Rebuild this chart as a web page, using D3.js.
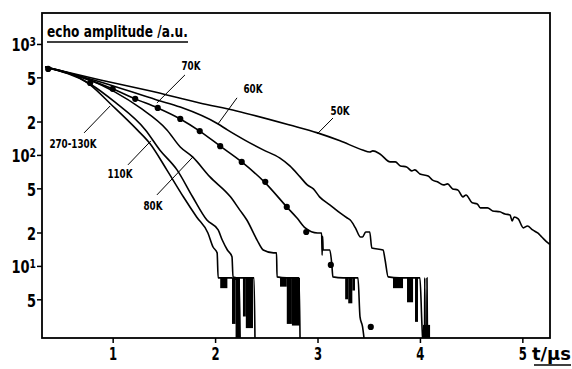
<!DOCTYPE html>
<html><head><meta charset="utf-8">
<script src="https://cdn.jsdelivr.net/npm/d3@7"></script>
<style>
body{margin:0;background:#fff}
text{font-family:"Liberation Sans Narrow","DejaVu Sans Condensed","Arial Narrow",sans-serif;font-weight:bold;fill:#000}
</style>
</head><body>
<svg id="c" width="572" height="369"></svg>
<script>
// ---- data (t in µs, echo amplitude in a.u.) ----
const t_270_130K = [0.34,0.78,0.99,1.24,1.36,1.53,1.69,1.82,1.93,1.98,2.02,2.03,2.13,2.16,2.20,2.235,2.245];
const a_270_130K = [621,428,282,168,128,73,42,27.6,19.8,14.8,13.1,7.8,7.8,7.8,7.6,7.8,2.0];

const t_110K = [0.34,0.78,1.02,1.32,1.46,1.63,1.78,1.92,2.03,2.07,2.12,2.165,2.175,2.24,2.30,2.36,2.38,2.39];
const a_110K = [621,436,300,168,111,73,42,25.9,21.1,17.1,13.9,12.1,7.96,7.8,7.8,7.8,7.8,2.0];

const t_80K = [0.34,0.78,1.02,1.27,1.53,1.66,1.78,1.95,2.15,2.24,2.31,2.41,2.47,2.57,2.60,2.605,2.70,2.80,2.82,2.83];
const a_80K = [621,474,370,265,168,118,96,63.4,41.9,32.0,25.9,17.1,13.9,13.1,13.1,7.96,7.8,7.8,7.8,2.0];

const t_70K = [0.34,0.68,1.00,1.22,1.44,1.66,1.85,2.05,2.26,2.49,2.70,2.80,2.88,3.00,3.04,3.045,3.05,3.055,3.12,3.14,3.15,3.25,3.35,3.395,3.415,3.44,3.46];
const a_70K = [621,505,394,320,265,211,164,120,86.5,56.0,34.0,27.0,22.0,19.8,19.8,12.5,18.5,13.9,13.9,10.2,7.96,7.8,7.8,7.8,3.47,2.82,2.0];

const t_60K = [0.34,0.88,1.43,1.66,2.03,2.12,2.29,2.47,2.63,2.73,2.83,2.90,2.96,3.02,3.12,3.22,3.29,3.32,3.37,3.42,3.44,3.47,3.51,3.53,3.64,3.66,3.69,3.80,3.90,4.00,4.02,4.03,4.045,4.047,4.052,4.067,4.069,4.074];
const a_60K = [621,455,313,270,190,168,136,111,94,79.6,63.4,53.7,49.4,41.9,35.5,30.0,27.0,25.9,22.0,18.2,18.2,20.2,20.2,14.5,13.9,11.3,7.96,7.8,7.8,7.8,2.9,2.0,2.0,7.8,2.0,2.0,7.8,2.0];

const t_50K = [0.34,0.88,1.36,1.85,2.21,2.73,3.00,3.22,3.44,3.51,3.54,3.61,3.71,3.76,3.81,3.87,3.92,3.95,4.00,4.08,4.12,4.17,4.23,4.27,4.32,4.37,4.42,4.45,4.51,4.56,4.59,4.66,4.71,4.78,4.83,4.88,4.90,4.92,4.96,5.01,5.05,5.10,5.15,5.19,5.25,5.27];
const a_50K = [621,474,378,294,249,186,158,134,111,106.4,108.7,102,86.5,86.5,79.6,78,71.8,73.3,67.4,64.7,59.6,57.2,53.7,54.8,49.4,48.4,41.9,43.6,37.0,36.2,33.3,33.3,31.3,30.7,29.4,28.8,25.4,27.6,26.5,22.0,22.9,21.1,19.8,18.2,16.1,15.6];

// measured points (dots) on the 70K decay
const t_dots = [0.37,0.78,1.00,1.22,1.44,1.66,1.85,2.05,2.26,2.49,2.70,2.89,3.13,3.52];
const a_dots = [596,445,394,320,265,211,164,120,86.5,57.2,34.0,20.2,10.2,2.82];

// noise bursts at the detection floor (time span, amplitude span)
const noiseT0   = [2.05,2.165,2.20,2.272,2.30,2.634,2.70,2.75,3.27,3.30,3.34,3.737,3.874,3.952,4.03];
const noiseT1   = [2.12,2.20,2.243,2.30,2.37,2.70,2.75,2.829,3.30,3.34,3.366,3.835,3.933,3.981,4.099];
const noiseHigh = [7.8,7.8,7.8,7.8,7.8,7.8,7.8,7.8,7.8,7.8,7.8,7.8,7.8,7.8,2.94];
const noiseLow  = [6.3,3.0,2.2,3.5,2.75,6.5,3.0,2.9,5.0,4.6,6.0,6.3,4.7,3.13,2.2];

// curve labels and leader lines
const labelNames = ["270-130K","110K","80K","70K","60K","50K"];
const labelT = [0.612,1.071,1.394,1.765,2.370,3.220];
const labelA = [115.6,62.1,32.0,583,362,229];
const leadFromT = [0.721,1.149,1.432,1.706,2.214,3.151];
const leadFromA = [158,81.3,43.6,526,327,215];
const leadToT = [0.975,1.374,1.784,1.432,2.028,2.997];
const leadToA = [276,134,96,294,190,154.5];

// axes
const xTicks = [1,2,3,4,5];
const xTickLabels = ["1","2","3","4","5"];
const yTicks = [1000,500,200,100,50,20,10,5];
const yTickLabels = ["10^3","5","2","10^2","5","2","10^1","5"];
const yTitle = "echo amplitude /a.u.";
const xTitle = "t/µs";

// ---- drawing ----
const svg = d3.select("#c");
const x = d3.scaleLinear().domain([0.31,5.27]).range([42,550]);
const y = d3.scaleLog().domain([2.24,1901]).range([338,13]);
const [x0,x1] = x.range(), [y0,y1] = y.range();

function squeeze(sel, f){
  sel.each(function(){
    const ax = +(this.getAttribute("x")||0);
    d3.select(this).attr("transform",`matrix(${f},0,0,1,${(1-f)*ax},0)`);
  });
}

svg.append("defs").append("clipPath").attr("id","clip")
  .append("rect").attr("x",x0).attr("y",y1).attr("width",x1-x0).attr("height",y0-y1);

const series = [
  [t_270_130K,a_270_130K],[t_110K,a_110K],[t_80K,a_80K],
  [t_70K,a_70K],[t_60K,a_60K],[t_50K,a_50K]
];
const line = d3.line().x(d=>x(d[0])).y(d=>y(d[1])).curve(d3.curveMonotoneX);
const g = svg.append("g").attr("clip-path","url(#clip)");
series.forEach(([ts,as])=>{
  g.append("path").datum(ts.map((t,i)=>[t,as[i]]))
    .attr("d",line).attr("fill","none").attr("stroke","#000")
    .attr("stroke-width",1.6).attr("stroke-linejoin","round");
});
g.selectAll("rect.noise").data(noiseT0.map((t,i)=>i)).join("rect")
  .attr("x",i=>x(noiseT0[i])).attr("width",i=>x(noiseT1[i])-x(noiseT0[i]))
  .attr("y",i=>y(noiseHigh[i])).attr("height",i=>y(noiseLow[i])-y(noiseHigh[i]))
  .attr("fill","#000");
g.selectAll("circle.dot").data(t_dots.map((t,i)=>[t,a_dots[i]])).join("circle")
  .attr("cx",d=>x(d[0])).attr("cy",d=>y(d[1])).attr("r",3.1).attr("fill","#000");

// leaders & labels
labelNames.forEach((n,i)=>{
  svg.append("line").attr("x1",x(leadFromT[i])).attr("y1",y(leadFromA[i]))
    .attr("x2",x(leadToT[i])).attr("y2",y(leadToA[i]))
    .attr("stroke","#000").attr("stroke-width",1);
  const t = svg.append("text").attr("x",x(labelT[i])).attr("y",y(labelA[i]))
    .attr("text-anchor","middle").attr("font-size",13).text(n);
  squeeze(t,0.75);
});

// frame
svg.append("rect").attr("x",x0).attr("y",y1).attr("width",x1-x0).attr("height",y0-y1)
  .attr("fill","none").attr("stroke","#000").attr("stroke-width",1.8);

// x axis
const xa = svg.append("g").attr("transform",`translate(0,${y0})`)
  .call(d3.axisBottom(x).tickValues(xTicks).tickFormat((d,i)=>xTickLabels[i]).tickSize(5).tickPadding(4));
xa.select(".domain").remove();
xa.selectAll("line").attr("stroke","#000").attr("stroke-width",1.5);
xa.selectAll("text").attr("font-size",18).attr("font-family",null);
squeeze(xa.selectAll("text"),0.72);

// y axis
const ya = svg.append("g").attr("transform",`translate(${x0},0)`)
  .call(d3.axisLeft(y).tickValues(yTicks).tickFormat((d,i)=>yTickLabels[i]).tickSize(5).tickPadding(1));
ya.select(".domain").remove();
ya.selectAll("line").attr("stroke","#000").attr("stroke-width",1.5);
ya.selectAll("text").attr("font-size",17).attr("font-family",null).attr("dy","0.4em")
  .each(function(){
    const s = d3.select(this), txt = s.text();
    if (txt.includes("^")) {
      const [b,e] = txt.split("^");
      s.text(null);
      s.append("tspan").text(b);
      s.append("tspan").attr("dy","-0.45em").attr("font-size",12).text(e);
    }
  });
squeeze(ya.selectAll("text"),0.85);

// titles
const ty = svg.append("text").attr("x",x0+5).attr("y",y1+24).attr("font-size",15).text(yTitle);
const tyw = ty.node().getComputedTextLength();
const fy = 141/tyw;
squeeze(ty,fy);
svg.append("line").attr("x1",x0+5).attr("x2",x0+5+tyw*fy).attr("y1",y1+29).attr("y2",y1+29)
  .attr("stroke","#000").attr("stroke-width",1.5);
const tx = svg.append("text").attr("x",x1-18).attr("y",y0+22).attr("font-size",18).text(xTitle);
const txw = tx.node().getComputedTextLength();
const fx = 39/txw;
squeeze(tx,fx);
svg.append("line").attr("x1",x1-16).attr("x2",x1-18+txw*fx).attr("y1",y0+27).attr("y2",y0+27)
  .attr("stroke","#000").attr("stroke-width",1.5);
</script>
</body></html>
